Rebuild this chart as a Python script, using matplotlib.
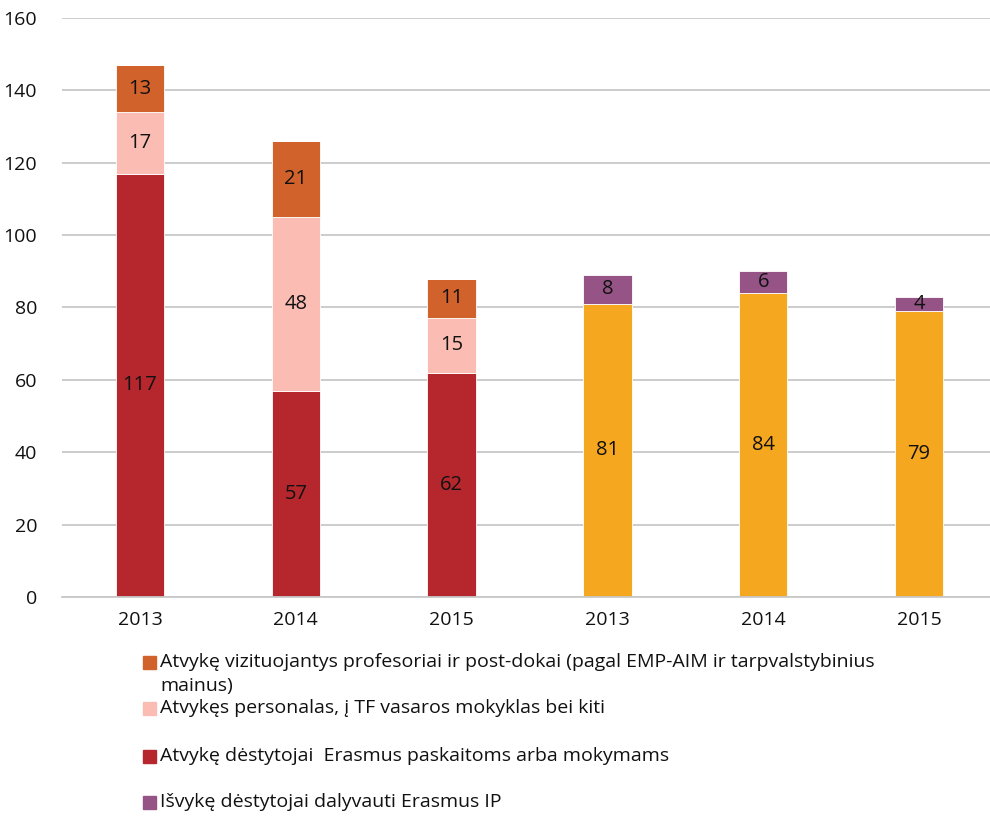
import numpy as np
import matplotlib.pyplot as plt
from matplotlib.patches import Rectangle

plt.rcParams['font.family'] = ['Open Sans', 'DejaVu Sans']

years = ['2013', '2014', '2015', '2013', '2014', '2015']
erasmus_in = [117, 57, 62, 0, 0, 0]
staff_in = [17, 48, 15, 0, 0, 0]
prof_in = [13, 21, 11, 0, 0, 0]
teach_out = [0, 0, 0, 81, 84, 79]
ip_out = [0, 0, 0, 8, 6, 4]

c_prof = '#D2622B'
c_staff = '#FBBDB3'
c_eras = '#B5272D'
c_ip = '#955485'
c_out = '#F5A81F'

fig = plt.figure(figsize=(9.9, 8.16), dpi=100)
ax = fig.add_axes([62/990, 1-597/816, 935/990, (597-18)/816])

x = np.arange(len(years))
w = 0.31
series = [(erasmus_in, c_eras), (staff_in, c_staff), (prof_in, c_prof),
          (teach_out, c_out), (ip_out, c_ip)]
bottom = np.zeros(len(years))
for vals, col in series:
    vals = np.array(vals, dtype=float)
    ax.bar(x, vals, w, bottom=bottom, color=col, edgecolor='white', linewidth=0.6, zorder=2)
    for i, v in enumerate(vals):
        if v > 0:
            ax.text(x[i], bottom[i] + v/2, '%d' % v, ha='center', va='center',
                    fontsize=14.5, color='#111111', zorder=3)
    bottom += vals

ax.set_xlim(-0.5, 5.5)
ax.set_ylim(0, 160)
ax.set_yticks(range(0, 161, 20))
ax.set_xticks(x)
ax.set_xticklabels(years)
ax.tick_params(length=0, labelsize=14, colors='#111111')
ax.tick_params(axis='y', pad=18)
ax.tick_params(axis='x', pad=10)
ax.grid(axis='y', color='#C8C8C8', linewidth=1.3, zorder=0)
ax.set_axisbelow(True)
for s in ['top', 'right', 'left']:
    ax.spines[s].set_visible(False)
ax.spines['bottom'].set_color('#C8C8C8')
ax.spines['bottom'].set_linewidth(1.3)

# legend
leg = [(c_prof, ['Atvykę vizituojantys profesoriai ir post-dokai (pagal EMP-AIM ir tarpvalstybinius', 'mainus)'], 662),
       (c_staff, ['Atvykęs personalas, į TF vasaros mokyklas bei kiti'], 708),
       (c_eras, ['Atvykę dėstytojai  Erasmus paskaitoms arba mokymams'], 756),
       (c_ip, ['Išvykę dėstytojai dalyvauti Erasmus IP'], 802)]
for col, lines, yp in leg:
    fig.add_artist(Rectangle((143/990, 1-(yp+7)/816), 13/990, 13/816,
                             transform=fig.transFigure, color=col))
    for k, lab in enumerate(lines):
        fig.text(160/990, 1-(yp+k*24)/816, lab, fontsize=14, va='center',
                 color='#111111')

plt.savefig('out.png', dpi=100)
